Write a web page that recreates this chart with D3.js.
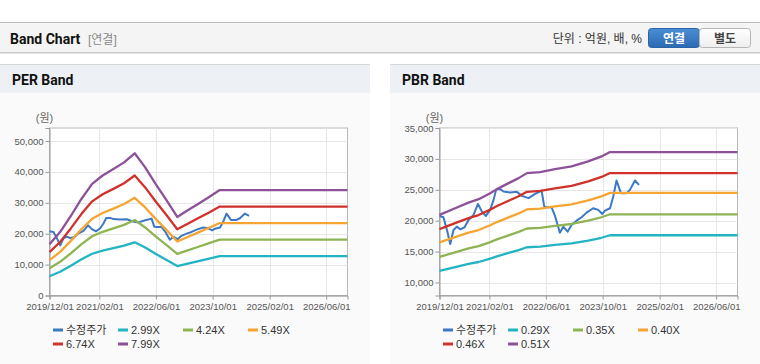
<!DOCTYPE html>
<html>
<head>
<meta charset="utf-8">
<script src="https://cdn.jsdelivr.net/npm/d3@7"></script>
<style>
  body { margin: 0; background: #fff; }
  svg { display: block; }
  text { font-family: "Liberation Sans", "Noto Sans CJK KR", sans-serif; }
</style>
</head>
<body>
<svg id="chart" width="760" height="364"></svg>
<script>
// adjusted close (수정주가), same series on both panels
const priceDates = [
  "2019-12-01", "2020-01-04", "2020-02-03", "2020-03-02", "2020-03-30", "2020-04-28",
  "2020-05-27", "2020-07-03", "2020-08-06", "2020-09-18", "2020-10-26", "2020-11-29",
  "2021-01-02", "2021-02-08", "2021-03-09", "2021-04-01", "2021-05-05", "2021-06-02",
  "2021-07-30", "2021-09-25", "2021-11-07", "2022-01-03", "2022-03-01", "2022-04-25",
  "2022-05-18", "2022-06-21", "2022-07-19", "2022-08-18", "2022-09-29", "2022-10-28",
  "2022-12-04", "2023-01-07", "2023-02-19", "2023-04-03", "2023-05-16", "2023-07-12",
  "2023-08-24", "2023-09-28", "2023-10-21", "2023-12-03", "2023-12-31", "2024-01-28",
  "2024-03-06", "2024-04-23", "2024-05-22", "2024-07-04", "2024-08-08"
];
const priceValues = [
  20770, 20560, 18500, 16230, 18500, 19040,
  18610, 18940, 20120, 20940, 22720, 21470,
  20770, 21750, 23370, 25110, 25110, 24720,
  24560, 24670, 24020, 23650, 24340, 24880,
  22280, 22190, 22190, 20770, 18060, 19040,
  18220, 19310, 20010, 20560, 21310, 22020,
  21750, 21100, 21630, 22020, 23910, 26500,
  24460, 24460, 24990, 26500, 25800
];

// PER band lines
const perDates = [
  "2019-12-01", "2020-03-01", "2020-06-01", "2020-09-01", "2020-12-01", "2021-03-01",
  "2021-06-01", "2021-09-01", "2021-12-01", "2022-03-01", "2022-06-01", "2022-09-01",
  "2022-12-01", "2023-03-01", "2023-06-01", "2023-09-01", "2023-12-01", "2026-12-01"
];
const per299 = [6220, 7680, 9630, 11720, 13510, 14530, 15310, 16120, 17220, 15520, 13460, 11510, 9510, 10320, 11120, 11930, 12770, 12770];
const per424 = [8820, 10900, 13650, 16620, 19160, 20610, 21710, 22850, 24420, 22010, 19080, 16320, 13480, 14630, 15770, 16920, 18100, 18100];
const per549 = [11420, 14110, 17680, 21520, 24810, 26680, 28110, 29590, 31620, 28490, 24710, 21140, 17460, 18940, 20420, 21910, 23440, 23440];
const per674 = [14020, 17320, 21700, 26420, 30460, 32760, 34510, 36330, 38820, 34980, 30330, 25950, 21430, 23250, 25070, 26890, 28780, 28780];
const per799 = [16620, 20530, 25730, 31320, 36110, 38830, 40910, 43070, 46020, 41470, 35960, 30760, 25410, 27570, 29720, 31880, 34120, 34120];
const perLabels = ["2.99X", "4.24X", "5.49X", "6.74X", "7.99X"];
const perYTicks = [0, 10000, 20000, 30000, 40000, 50000];

// PBR band lines
const pbrDates = [
  "2019-12-01", "2020-04-13", "2020-08-06", "2020-11-01", "2021-02-08", "2021-04-07",
  "2021-07-16", "2021-10-10", "2021-12-20", "2022-04-13", "2022-08-18", "2023-01-07",
  "2023-05-30", "2023-09-21", "2023-12-03", "2026-12-01"
];
const pbr029 = [11880, 12490, 13010, 13320, 13870, 14240, 14790, 15250, 15710, 15810, 16080, 16330, 16790, 17240, 17650, 17650];
const pbr035 = [14160, 14890, 15510, 15880, 16540, 16990, 17640, 18190, 18740, 18850, 19180, 19470, 20010, 20560, 21040, 21040];
const pbr040 = [16490, 17340, 18060, 18490, 19260, 19780, 20540, 21180, 21820, 21950, 22330, 22660, 23300, 23940, 24500, 24500];
const pbr046 = [18650, 19610, 20430, 20920, 21790, 22370, 23230, 23960, 24680, 24830, 25250, 25640, 26360, 27080, 27710, 27710];
const pbr051 = [20940, 22020, 22930, 23480, 24460, 25110, 26080, 26890, 27700, 27870, 28350, 28780, 29590, 30400, 31110, 31110];
const pbrLabels = ["0.29X", "0.35X", "0.40X", "0.46X", "0.51X"];
const pbrYTicks = [10000, 15000, 20000, 25000, 30000, 35000];

const xTickDates = ["2019-12-01", "2021-02-01", "2022-06-01", "2023-10-01", "2025-02-01", "2026-06-01"];
const xDomain = ["2019-12-01", "2026-12-01"];

const colors = ["#3d78c4", "#22b4c2", "#8fb454", "#f5a532", "#d0322b", "#8d519a"];

const parse = d3.timeParse("%Y-%m-%d");
const fmtDate = d3.timeFormat("%Y/%m/%d");
const svg = d3.select("#chart");

// gradients for the toggle buttons
const defs = svg.append("defs");
const blue = defs.append("linearGradient").attr("id", "btnBlue").attr("x1", 0).attr("y1", 0).attr("x2", 0).attr("y2", 1);
blue.append("stop").attr("offset", "0%").attr("stop-color", "#4b8ed3");
blue.append("stop").attr("offset", "100%").attr("stop-color", "#2b6ab2");
const white = defs.append("linearGradient").attr("id", "btnWhite").attr("x1", 0).attr("y1", 0).attr("x2", 0).attr("y2", 1);
white.append("stop").attr("offset", "0%").attr("stop-color", "#ffffff");
white.append("stop").attr("offset", "100%").attr("stop-color", "#eeeeee");

// header bar
svg.append("rect").attr("x", 0).attr("y", 22).attr("width", 760).attr("height", 31).attr("fill", "#f4f4f4");
svg.append("line").attr("x1", 0).attr("x2", 760).attr("y1", 22.5).attr("y2", 22.5).attr("stroke", "#bdbdbd");
svg.append("line").attr("x1", 0).attr("x2", 760).attr("y1", 52.5).attr("y2", 52.5).attr("stroke", "#c8c8c8");
svg.append("line").attr("x1", 0).attr("x2", 760).attr("y1", 53.5).attr("y2", 53.5).attr("stroke", "#e4e4e4");

svg.append("text").attr("x", 10).attr("y", 44)
  .style("font-family", "Roboto, sans-serif").style("font-weight", "bold")
  .style("font-size", "14px").attr("fill", "#111").text("Band Chart");
svg.append("text").attr("x", 88).attr("y", 43.5)
  .style("font-size", "12px").attr("fill", "#8a8a8a").text("[연결]");
svg.append("text").attr("x", 642).attr("y", 43).attr("text-anchor", "end")
  .style("font-size", "12px").attr("fill", "#333").text("단위 : 억원, 배, %");

svg.append("rect").attr("x", 648.5).attr("y", 28.5).attr("width", 51).attr("height", 19).attr("rx", 3)
  .attr("fill", "url(#btnBlue)").attr("stroke", "#2a63a6");
svg.append("text").attr("x", 674).attr("y", 42.5).attr("text-anchor", "middle")
  .style("font-size", "12px").style("font-weight", "bold").attr("fill", "#fff").text("연결");
svg.append("rect").attr("x", 699.5).attr("y", 28.5).attr("width", 51).attr("height", 19).attr("rx", 3)
  .attr("fill", "url(#btnWhite)").attr("stroke", "#b5b5b5");
svg.append("text").attr("x", 725).attr("y", 42.5).attr("text-anchor", "middle")
  .style("font-size", "12px").style("font-weight", "bold").attr("fill", "#444").text("별도");

function drawPanel(p) {
  const g = svg.append("g");

  // panel background and title bar
  g.append("rect").attr("x", p.panelX).attr("y", 64).attr("width", 370).attr("height", 300).attr("fill", "#fafafa");
  g.append("rect").attr("x", p.panelX).attr("y", 64).attr("width", 370).attr("height", 29).attr("fill", "#edf1f6");
  g.append("line").attr("x1", p.panelX).attr("x2", p.panelX + 370).attr("y1", 64.5).attr("y2", 64.5).attr("stroke", "#d6d6d6");
  g.append("text").attr("x", p.panelX + 12).attr("y", 85)
    .style("font-family", "Roboto, sans-serif").style("font-weight", "bold")
    .style("font-size", "14px").attr("fill", "#111").text(p.title);

  const x = d3.scaleTime().domain(xDomain.map(parse)).range([p.left, p.right]);
  const y = d3.scaleLinear().domain(p.yDomain).range([p.bottom, p.top]);

  // plot area
  g.append("rect").attr("x", p.left).attr("y", p.top)
    .attr("width", p.right - p.left).attr("height", p.bottom - p.top)
    .attr("fill", "#fff").attr("stroke", "#b8b8b8");

  // grid
  g.append("g").selectAll("line").data(p.yTicks).join("line")
    .attr("x1", p.left).attr("x2", p.right)
    .attr("y1", d => Math.round(y(d)) + 0.5).attr("y2", d => Math.round(y(d)) + 0.5)
    .attr("stroke", "#e6e6e6");
  g.append("g").selectAll("line").data(xTickDates.slice(1)).join("line")
    .attr("x1", d => Math.round(x(parse(d))) + 0.5).attr("x2", d => Math.round(x(parse(d))) + 0.5)
    .attr("y1", p.top).attr("y2", p.bottom)
    .attr("stroke", "#e6e6e6");

  // axes
  const xAxis = g.append("g").attr("transform", `translate(0,${p.bottom})`)
    .call(d3.axisBottom(x).tickValues(xTickDates.map(parse)).tickFormat(fmtDate).tickSize(4).tickPadding(4));
  const yAxis = g.append("g").attr("transform", `translate(${p.left},0)`)
    .call(d3.axisLeft(y).tickValues(p.yTicks).tickFormat(d3.format(",")).tickSize(4).tickPadding(2));
  [xAxis, yAxis].forEach(a => {
    a.select(".domain").attr("stroke", "#999");
    a.selectAll(".tick line").attr("stroke", "#999");
    a.selectAll(".tick text").attr("fill", "#555")
      .style("font-family", "'Liberation Sans', sans-serif").style("font-size", "9.5px");
  });

  g.append("text").attr("x", p.left - 5).attr("y", 122).attr("text-anchor", "middle")
    .style("font-size", "11px").attr("fill", "#666").text("(원)");

  // lines: price first, bands on top
  const line = d3.line().x(d => x(d.date)).y(d => y(d.value));
  const series = [{
    name: "수정주가",
    width: 2,
    points: priceDates.map((d, i) => ({ date: parse(d), value: priceValues[i] }))
  }].concat(p.bands.map((b, k) => ({
    name: p.labels[k],
    width: 2.3,
    points: p.bandDates.map((d, i) => ({ date: parse(d), value: b[i] }))
  })));

  g.append("g").selectAll("path").data(series).join("path")
    .attr("fill", "none")
    .attr("stroke", (d, i) => colors[i])
    .attr("stroke-width", d => d.width)
    .attr("stroke-linejoin", "round")
    .attr("d", d => line(d.points));

  // legend, 4 per row
  const legend = g.append("g").selectAll("g").data(series).join("g")
    .attr("transform", (d, i) => `translate(${p.left + 3.5 + (i % 4) * 65},${330 + Math.floor(i / 4) * 14})`);
  legend.append("line").attr("x1", 0).attr("x2", 10).attr("y1", 0).attr("y2", 0)
    .attr("stroke", (d, i) => colors[i]).attr("stroke-width", 3);
  legend.append("text").attr("x", 13).attr("dy", "0.36em")
    .style("font-size", "11px").attr("fill", "#333").text(d => d.name);
}

drawPanel({
  title: "PER Band", panelX: 0,
  left: 49.5, right: 347.5, top: 128, bottom: 295.5,
  yDomain: [0, 54200], yTicks: perYTicks,
  bandDates: perDates, bands: [per299, per424, per549, per674, per799], labels: perLabels
});

drawPanel({
  title: "PBR Band", panelX: 390,
  left: 439.5, right: 737.5, top: 128, bottom: 295.5,
  yDomain: [7900, 35000], yTicks: pbrYTicks,
  bandDates: pbrDates, bands: [pbr029, pbr035, pbr040, pbr046, pbr051], labels: pbrLabels
});
</script>
</body>
</html>
